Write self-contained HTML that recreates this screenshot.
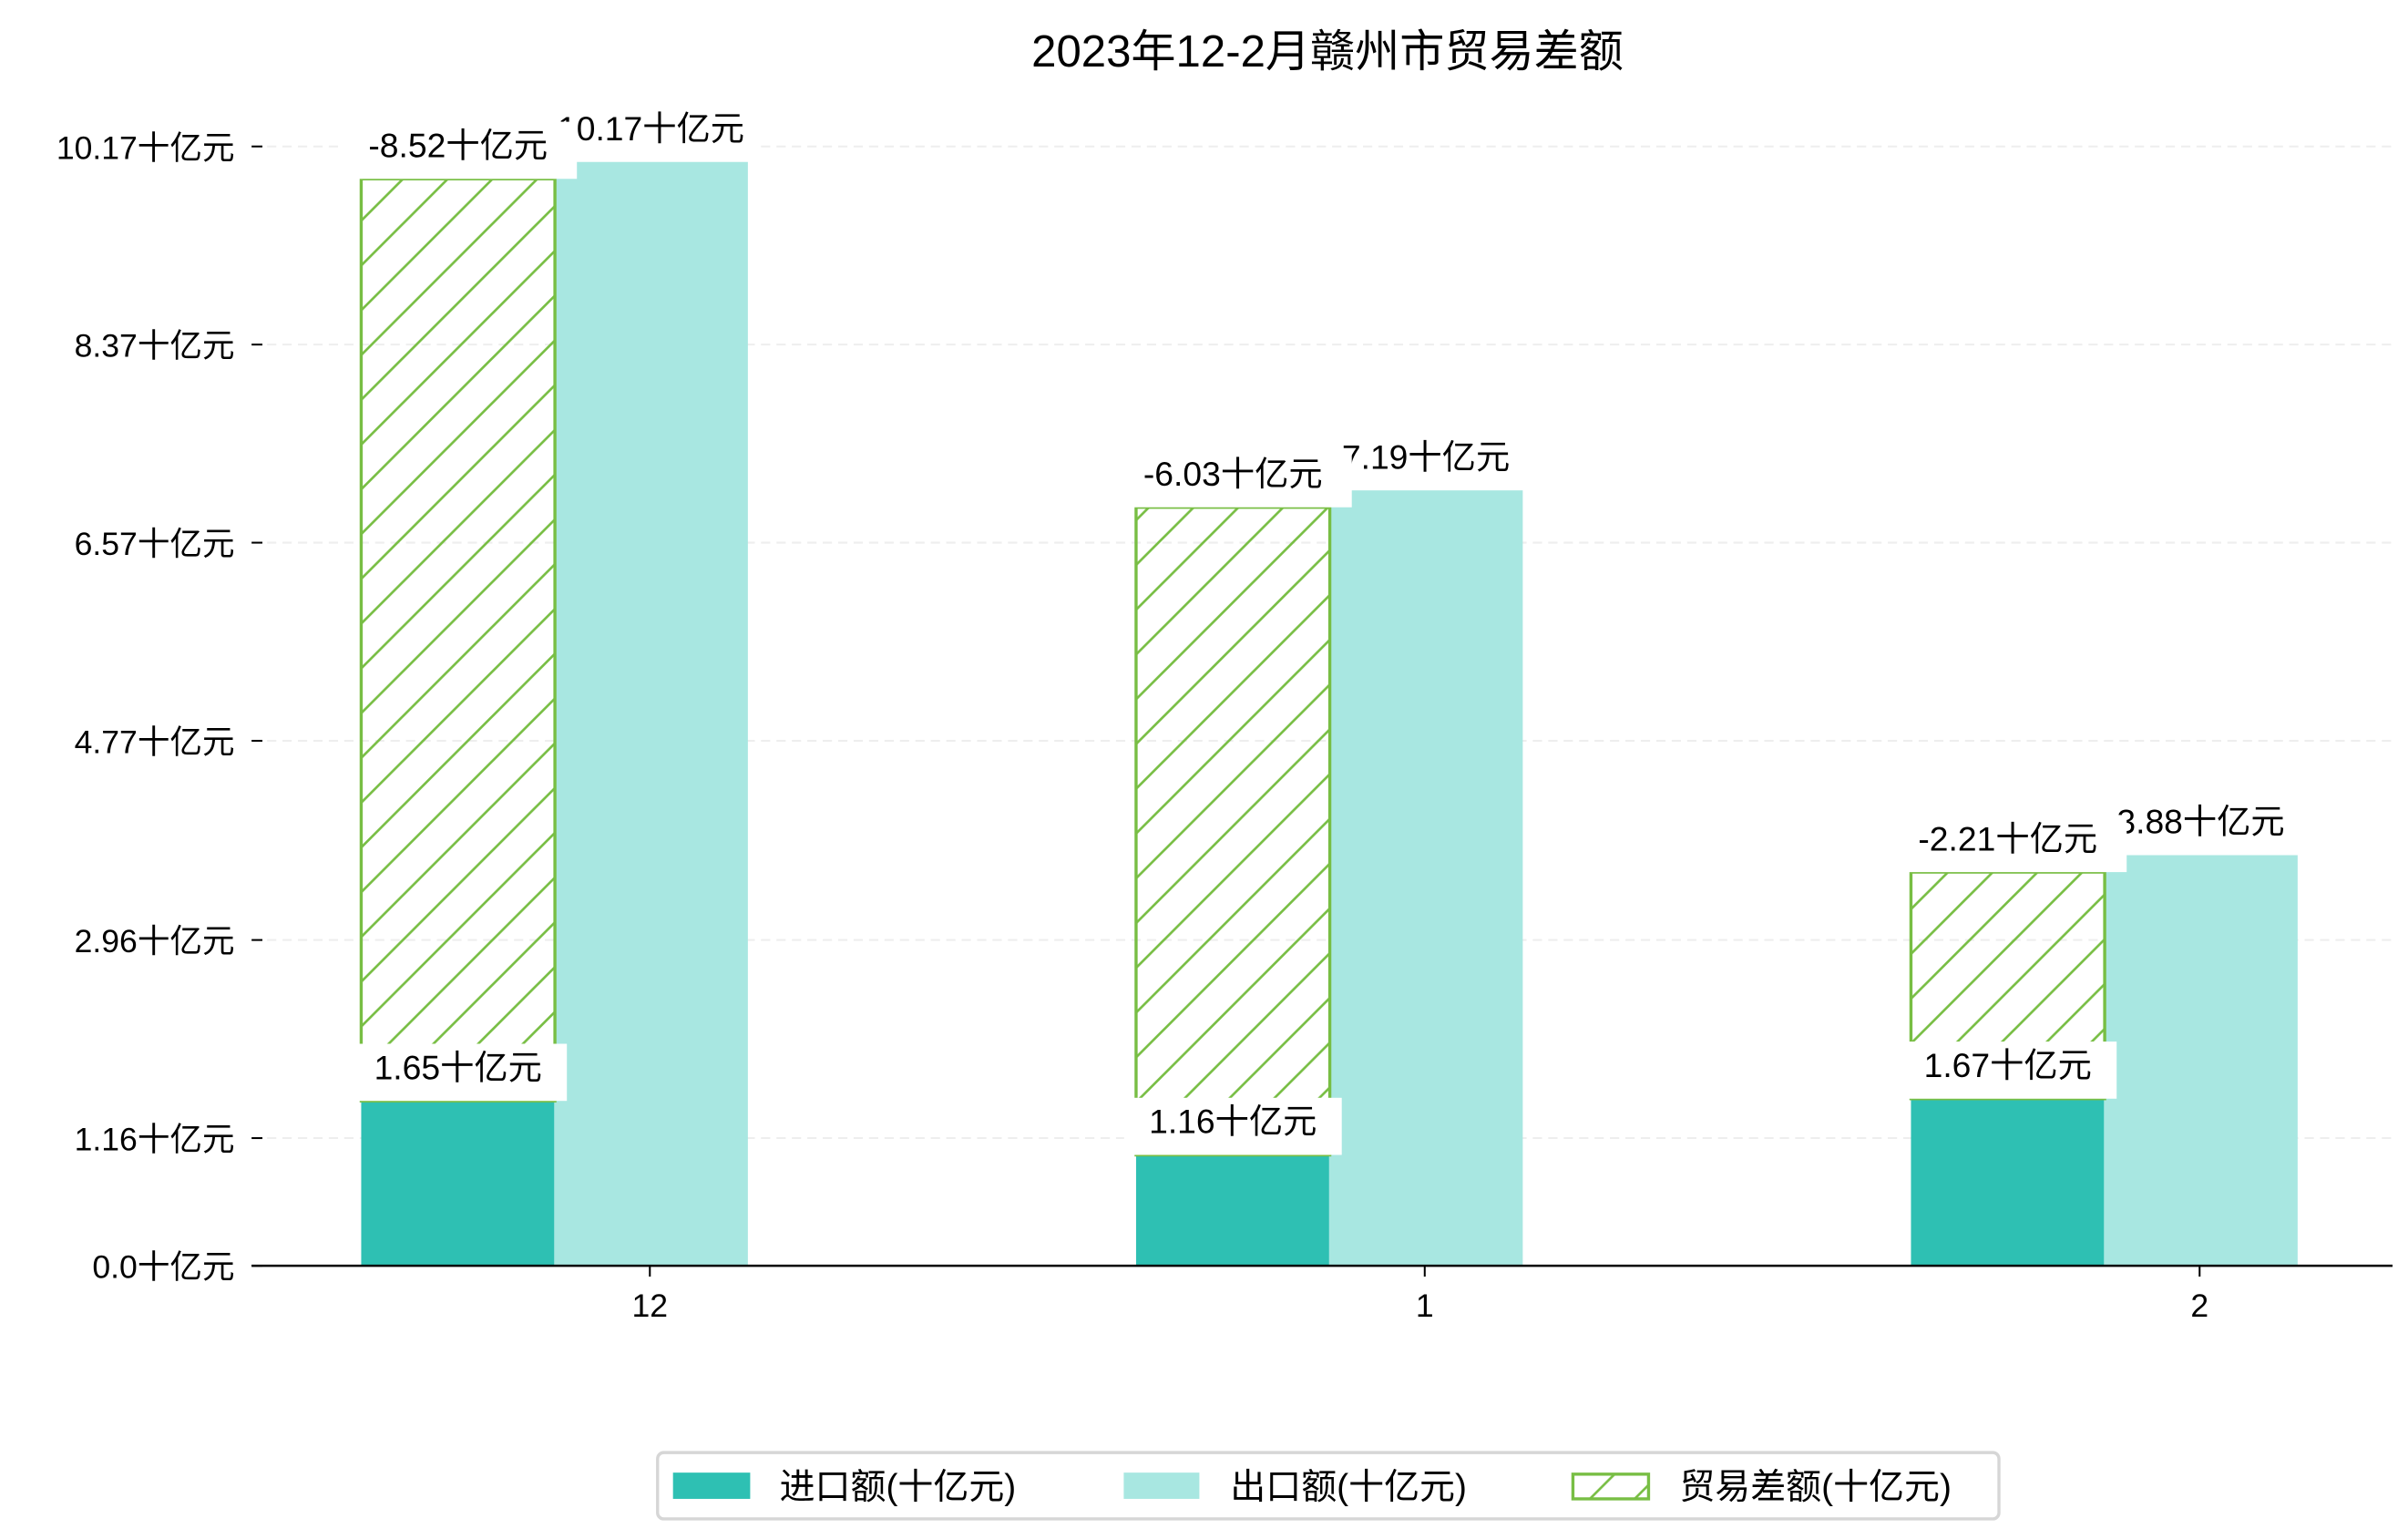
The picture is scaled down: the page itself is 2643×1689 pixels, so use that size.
<!DOCTYPE html>
<html><head><meta charset="utf-8"><style>
html,body{margin:0;padding:0;background:#fff;}
svg{display:block;font-family:"Liberation Sans","Noto Sans CJK SC",sans-serif;}
</style></head><body>
<svg id="chart" width="2643" height="1689" viewBox="0 0 1560 997" preserveAspectRatio="none" xmlns="http://www.w3.org/2000/svg">
<defs>
<pattern id="hatch" patternUnits="userSpaceOnUse" width="29" height="29">
<path d="M-7,36 L36,-7 M-7,7 L7,-7 M22,36 L36,22" stroke="#78be44" stroke-width="1.6"/>
</pattern>
<clipPath id="plotclip"><rect x="163" y="0" width="1400" height="820"/></clipPath>
</defs>
<rect width="1560" height="997" fill="#fff"/>
<text x="860" y="43" text-anchor="middle" font-size="29" fill="#000">2023年12-2月赣州市贸易差额</text>
<g id="grid"></g>
<g id="bars" clip-path="url(#plotclip)"></g>
<g id="labels"></g>
<line x1="163" y1="820" x2="1550" y2="820" stroke="#000" stroke-width="1.5"/>
<g id="xticks"></g>
<g>
<rect x="426" y="941" width="869" height="43" rx="4" fill="#fff" stroke="#d6d6d6" stroke-width="2"/>
<rect x="436" y="954" width="50" height="17" fill="#2ec0b3"/>
<text x="505" y="971" font-size="23">进口额(十亿元)</text>
<rect x="728" y="954" width="49" height="17" fill="#a8e7e1"/>
<text x="797" y="971" font-size="23">出口额(十亿元)</text>
<rect x="1019" y="955" width="49" height="16" fill="url(#hatch)" stroke="#78be44" stroke-width="2"/>
<text x="1088" y="971" font-size="23">贸易差额(十亿元)</text>
</g>
</svg>
<script>
const months = ["12", "1", "2"];
const imports = [1.65, 1.16, 1.67];
const exports = [10.17, 7.19, 3.88];
const balances = [-8.52, -6.03, -2.21];
const tickValues = [0.0, 1.16, 2.96, 4.77, 6.57, 8.37, 10.17];
const tickLabels = ["0.0十亿元", "1.16十亿元", "2.96十亿元", "4.77十亿元", "6.57十亿元", "8.37十亿元", "10.17十亿元"];

const NS = "http://www.w3.org/2000/svg";
function mk(tag, attrs, parent){const e=document.createElementNS(NS,tag);for(const k in attrs)e.setAttribute(k,attrs[k]);parent.appendChild(e);return e;}
function tickY(v){return 820 - 71.3*v;}
function barY(v){return 831 - 71.4*v;}
function xCenter(i){return 421 + 502*i;}
const BW = 125.5;
const grid = document.getElementById('grid');
const bars = document.getElementById('bars');
const labels = document.getElementById('labels');
const xt = document.getElementById('xticks');

tickValues.forEach((v,i)=>{
  const y = tickY(v);
  if (i>0) {
    const g = mk('line',{x1:163,y1:y,x2:1550,y2:y,stroke:'#eeeeee','stroke-width':1.2,'stroke-dasharray':'6,4'},grid);
    
    
  }
  const t = mk('line',{x1:163,y1:y,x2:170,y2:y,stroke:'#000','stroke-width':1.2},grid);
  
  
  const l = mk('text',{x:152,y:y+8,'text-anchor':'end','font-size':21},grid);
  l.textContent = tickLabels[i];
  
  
});

function label(cx, bottom, txt, w){
  const r = mk('rect',{x:cx-w/2,y:bottom-37,width:w,height:37,fill:'#fff'},labels);
  
  
  const t = mk('text',{x:cx,y:bottom-14,'text-anchor':'middle','font-size':22},labels);
  t.textContent = txt;
  
  
}

months.forEach((m,i)=>{
  const c = xCenter(i);
  const x0 = c - 187, x1 = c - 62;
  const iy = barY(imports[i]);
  const b1 = mk('rect',{x:x0,y:iy,width:BW,height:831-iy,fill:'#2ec0b3'},bars);
  
  
  const ey = barY(exports[i]);
  const b2 = mk('rect',{x:x1,y:ey,width:BW,height:831-ey,fill:'#a8e7e1'},bars);
  
  
  const dTop = barY(imports[i] + Math.abs(balances[i])) + 11;
  const b3 = mk('rect',{x:x0,y:dTop,width:BW,height:iy-dTop,fill:'url(#hatch)',stroke:'#78be44','stroke-width':2},bars);
  
  
  label(x1 + BW/2, ey, exports[i].toFixed(2)+'十亿元', 140);
  label(x0 + BW/2, dTop, balances[i].toFixed(2)+'十亿元', 154);
  label(x0 + BW/2, iy, imports[i].toFixed(2)+'十亿元', 141);
  const tk = mk('line',{x1:c,y1:820,x2:c,y2:827,stroke:'#000','stroke-width':1.2},xt);
  
  
  const tl = mk('text',{x:c,y:853,'text-anchor':'middle','font-size':21},xt);
  tl.textContent = m;
  
  
});
</script>
</body></html>
